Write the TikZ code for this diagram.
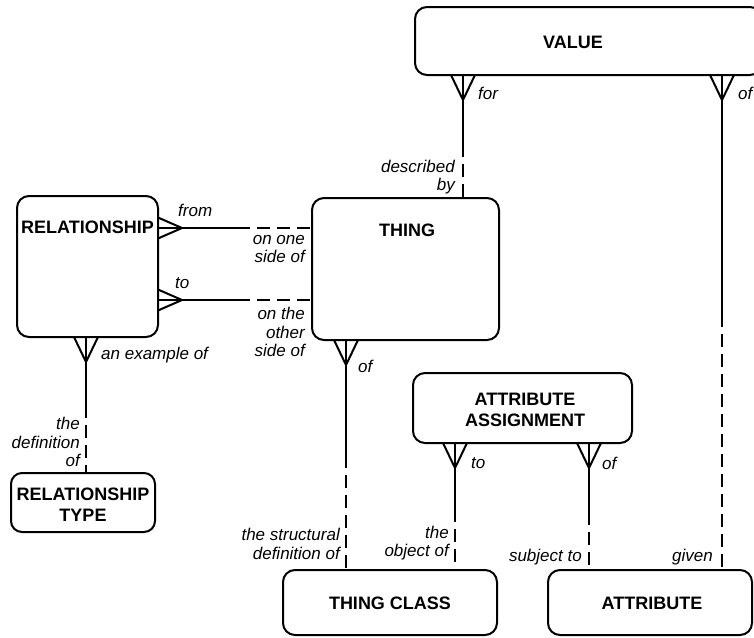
\documentclass[tikz,border=0pt]{standalone}
\usepackage{fontspec}
\setmainfont{Liberation Sans}
\usetikzlibrary{calc}
\begin{document}
\begin{tikzpicture}[x=1pt,y=-1pt,
  entity/.style={draw, rounded corners=12pt, line width=2pt, inner sep=0pt, outer sep=0pt},
  ename/.style={font=\fontsize{18}{21}\selectfont\bfseries, align=center, inner sep=0pt},
  rlabel/.style={font=\fontsize{17}{18.5}\selectfont\itshape, inner sep=0pt},
  solidln/.style={line width=2pt, line join=miter},
  dashln/.style={line width=2pt, dash pattern=on 13pt off 7pt, dash phase=13pt},
]
\useasboundingbox (0,0) rectangle (754,637);
\clip (0,0) rectangle (754,637);

% crow's feet: many-end at a box edge
\newcommand\footdown[1]{\draw[solidln] ($(#1)+(-12,0)$) -- ($(#1)+(0,25)$) -- ($(#1)+(12,0)$);}
\newcommand\footright[1]{\draw[solidln] ($(#1)+(0,-10.5)$) -- ($(#1)+(24,0)$) -- ($(#1)+(0,10.5)$);}

% entities
\node[entity, minimum width=347pt, minimum height=68pt] (value) at (588.5,41) {};
\node[entity, minimum width=141pt, minimum height=141pt] (rel) at (87.5,266.5) {};
\node[entity, minimum width=187pt, minimum height=142pt] (thing) at (405.5,269) {};
\node[entity, minimum width=144pt, minimum height=59pt, rounded corners=11pt] (reltype) at (83,502.5) {};
\node[entity, minimum width=219pt, minimum height=70pt] (aa) at (522.5,408) {};
\node[entity, minimum width=214pt, minimum height=65pt] (tclass) at (390,602.5) {};
\node[entity, minimum width=204pt, minimum height=65pt] (attr) at (650,602.5) {};

\node[ename] (value-t) at (573,42) {VALUE};
\node[ename] (rel-t) at (87.5,227) {RELATIONSHIP};
\node[ename] (thing-t) at (407,230) {THING};
\node[ename] (reltype-t) at (83,505) {RELATIONSHIP\\TYPE};
\node[ename] (aa-t) at (525,410) {ATTRIBUTE\\ASSIGNMENT};
\node[ename] (tclass-t) at (390,603) {THING CLASS};
\node[ename] (attr-t) at (652,603) {ATTRIBUTE};

% attachment positions
\coordinate (xfor) at (463,0);
\coordinate (xgiven) at (722,0);
\coordinate (xex) at (86,0);
\coordinate (xthing) at (346,0);
\coordinate (xobj) at (455,0);
\coordinate (xsubj) at (589,0);
\coordinate (yfrom) at (0,228);
\coordinate (yto) at (0,300);

% VALUE for / described by THING
\footdown{value.south -| xfor}
\draw[solidln] (value.south -| xfor) -- (463,157) coordinate (sfor);
\draw[dashln] (sfor) -- (thing.north -| xfor);
% VALUE of / given ATTRIBUTE
\footdown{value.south -| xgiven}
\draw[solidln] (value.south -| xgiven) -- (722,327) coordinate (sgiven);
\draw[dashln] (sgiven) -- (attr.north -| xgiven);
% RELATIONSHIP from / on one side of THING
\footright{rel.east |- yfrom}
\draw[solidln] (rel.east |- yfrom) -- (250,228) coordinate (sfrom);
\draw[dashln] (sfrom) -- (thing.west |- yfrom);
% RELATIONSHIP to / on the other side of THING
\footright{rel.east |- yto}
\draw[solidln] (rel.east |- yto) -- (250,300) coordinate (sto);
\draw[dashln] (sto) -- (thing.west |- yto);
% RELATIONSHIP an example of / the definition of RELATIONSHIP TYPE
\footdown{rel.south -| xex}
\draw[solidln] (rel.south -| xex) -- (86,418) coordinate (sex);
\draw[dashln] (sex) -- (reltype.north -| xex);
% THING of / the structural definition of THING CLASS
\footdown{thing.south -| xthing}
\draw[solidln] (thing.south -| xthing) -- (346,468) coordinate (sthing);
\draw[dashln] (sthing) -- (tclass.north -| xthing);
% ATTRIBUTE ASSIGNMENT to / the object of THING CLASS
\footdown{aa.south -| xobj}
\draw[solidln] (aa.south -| xobj) -- (455,522) coordinate (sobj);
\draw[dashln] (sobj) -- (tclass.north -| xobj);
% ATTRIBUTE ASSIGNMENT of / subject to ATTRIBUTE
\footdown{aa.south -| xsubj}
\draw[solidln] (aa.south -| xsubj) -- (589,525) coordinate (ssubj);
\draw[dashln] (ssubj) -- (attr.north -| xsubj);

% relationship names
\node[rlabel, anchor=west] (l-for) at (478,93) {for};
\node[rlabel, anchor=west] (l-of1) at (738,93) {of};
\node[rlabel, anchor=east, align=right] (l-descr) at (455,177) {described\\by};
\node[rlabel, anchor=west] (l-from) at (178,210) {from};
\node[rlabel, anchor=east, align=right] (l-one) at (305,249) {on one\\side of};
\node[rlabel, anchor=west] (l-to1) at (175,283) {to};
\node[rlabel, anchor=east, align=right] (l-other) at (305,332) {on the\\other\\side of};
\node[rlabel, anchor=west] (l-ex) at (101,355) {an example of};
\node[rlabel, anchor=east, align=right] (l-def) at (80,442) {the\\definition\\of};
\node[rlabel, anchor=west] (l-of2) at (358,366) {of};
\node[rlabel, anchor=east, align=right] (l-struct) at (340,544) {the structural\\definition of};
\node[rlabel, anchor=west] (l-to2) at (471,463) {to};
\node[rlabel, anchor=east, align=right] (l-obj) at (449,543) {the\\object of};
\node[rlabel, anchor=west] (l-of3) at (602,463) {of};
\node[rlabel, anchor=east] (l-subj) at (582,557) {subject to};
\node[rlabel, anchor=east] (l-given) at (713,557) {given};
\end{tikzpicture}
\end{document}
